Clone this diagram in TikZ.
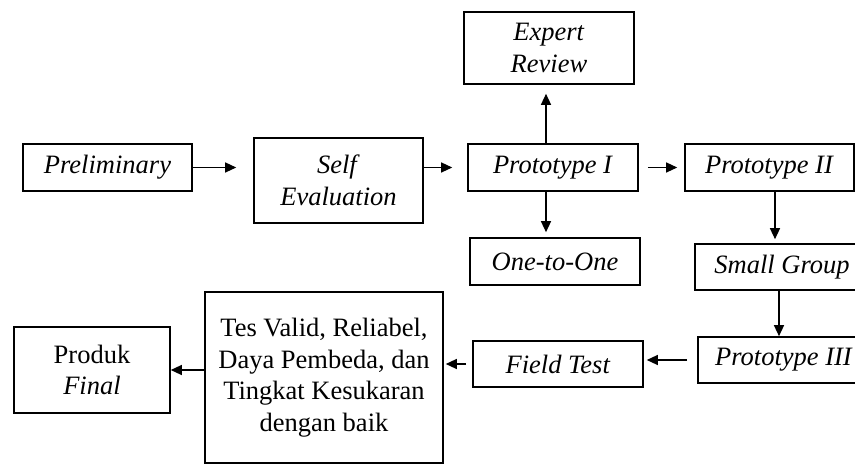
\documentclass[tikz,border=0pt]{standalone}
\usepackage{fontspec}
\setmainfont{Liberation Serif}
\usetikzlibrary{arrows.meta}

\begin{document}
\begin{tikzpicture}[
    x=1pt, y=-1pt,
    every node/.style={font=\fontsize{26.5}{31.5}\selectfont},
    box/.style={draw, line width=1.6pt, align=center, inner sep=0pt, minimum width=170pt, minimum height=47pt},
    tallbox/.style={box, minimum height=85pt},
    flow/.style={-{Triangle[length=11pt,width=10pt]}, line width=1.3pt}
]
\useasboundingbox (0,0) rectangle (855,465);
\node[box, minimum width=169pt] (prelim) at (107.5,167.5) {\textit{Preliminary}};
\node[tallbox, minimum width=169pt] (selfeval) at (338.5,180.5) {\textit{Self}\\\textit{Evaluation}};
\node[box, minimum height=72pt] (expert) at (549,48) {\textit{Expert}\\\textit{Review}};
\node[box] (proto1) at (553,167.5) {\textit{Prototype I}};
\node[box, minimum width=169pt] (proto2) at (769.5,167.5) {\textit{Prototype II}};
\node[box] (onetoone) at (555,261.5) {\textit{One-to-One}};
\node[box, minimum width=174pt, minimum height=46pt] (smallgroup) at (782,267) {\textit{Small Group}};
\node[box, minimum width=172pt, minimum height=46pt] (proto3) at (784,360) {\textit{Prototype III}};
\node[box, minimum height=46pt] (fieldtest) at (558,364) {\textit{Field Test}};
\node[box, minimum width=238pt, minimum height=171pt] (bigbox) at (324,377.5)
    {Tes Valid, Reliabel,\\Daya Pembeda, dan\\Tingkat Kesukaran\\dengan baik};
\node[tallbox, minimum width=156pt, minimum height=86pt] (produk) at (92,370) {Produk\\\textit{Final}};
% alur pengembangan
\draw[flow, shorten >=17pt] (prelim.east) -- (selfeval.west |- prelim.east);
\draw[flow, shorten >=15pt] (selfeval.east |- proto1.west) -- (proto1.west);
\draw[flow, shorten <=9pt, shorten >=7pt] (proto1) -- (proto2);
\draw[flow, shorten >=9pt] ([xshift=-7pt]proto1.north) -- ([xshift=-7pt]proto1.north |- expert.south);
\draw[flow, shorten >=5pt] ([xshift=-7pt]proto1.south) -- ([xshift=-7pt]proto1.south |- onetoone.north);
\draw[flow, shorten >=4pt] ([xshift=5.5pt]proto2.south) -- ([xshift=5.5pt]proto2.south |- smallgroup.north);
\draw[flow] ([xshift=-3pt]smallgroup.south) -- ([xshift=-3pt]smallgroup.south |- proto3.north);
\draw[flow, shorten <=10pt, shorten >=3pt] (proto3.west) -- (proto3.west -| fieldtest.east);
\draw[flow, shorten <=6pt, shorten >=2pt] (fieldtest.west) -- (fieldtest.west -| bigbox.east);
\draw[flow] (bigbox.west |- produk.east) -- (produk.east);
\end{tikzpicture}
\end{document}
